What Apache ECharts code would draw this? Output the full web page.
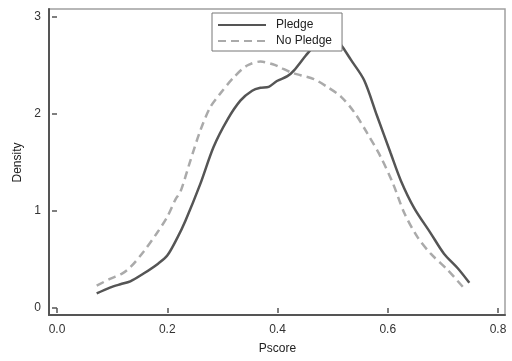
<!DOCTYPE html>
<html>
<head>
<meta charset="utf-8">
<script src="https://cdn.jsdelivr.net/npm/echarts@6/dist/echarts.min.js"></script>
<style>
  html, body { margin: 0; padding: 0; background: #fff; }
  #main { width: 512px; height: 361px; }
</style>
</head>
<body>
<div id="main"></div>
<script>
// kernel density [pscore, density]
var pledge = [
    [0.072,0.15],[0.096,0.21],[0.115,0.245],[0.133,0.275],[0.157,0.355],[0.184,0.46],
    [0.2,0.54],[0.218,0.72],[0.233,0.9],[0.26,1.28],[0.284,1.66],[0.309,1.94],
    [0.333,2.14],[0.354,2.24],[0.369,2.27],[0.384,2.28],[0.399,2.34],[0.418,2.39],
    [0.43,2.45],[0.451,2.6],[0.475,2.76],[0.49,2.83],[0.505,2.79],[0.518,2.69],
    [0.533,2.56],[0.557,2.35],[0.58,1.99],[0.605,1.6],[0.624,1.31],[0.648,1.03],
    [0.678,0.77],[0.702,0.56],[0.727,0.41],[0.748,0.26]
];
var noPledge = [
    [0.072,0.23],[0.096,0.3],[0.118,0.355],[0.133,0.42],[0.157,0.58],[0.181,0.77],
    [0.2,0.94],[0.215,1.12],[0.224,1.2],[0.242,1.52],[0.26,1.83],[0.278,2.07],
    [0.296,2.21],[0.321,2.38],[0.345,2.5],[0.369,2.54],[0.393,2.51],[0.405,2.48],
    [0.424,2.43],[0.442,2.4],[0.466,2.36],[0.49,2.28],[0.515,2.18],[0.539,2.02],
    [0.563,1.8],[0.587,1.56],[0.609,1.29],[0.63,0.98],[0.654,0.73],[0.678,0.56],
    [0.709,0.39],[0.739,0.2]
];
var seriesNames = ['Pledge', 'No Pledge'];
var xTicks = [0, 0.8, 0.2];   // min, max, step
var yTicks = [0, 3, 1];

var myChart = echarts.init(document.getElementById('main'));
var fontFamily = 'Liberation Sans, Arial, sans-serif';

var option = {
    animation: false,
    backgroundColor: '#fff',
    textStyle: { fontFamily: fontFamily },
    grid: [
        { left: 57, right: 14, top: 17, bottom: 53 },                  // data area
        { left: 49, right: 7, top: 9, bottom: 46, show: true,           // plot frame
          borderColor: '#a0a0a0', borderWidth: 1.5, backgroundColor: 'transparent' }
    ],
    legend: {
        left: 212, top: 13,
        orient: 'vertical',
        backgroundColor: '#fff',
        borderColor: '#777', borderWidth: 1,
        padding: [6, 10, 4, 5],
        itemWidth: 48, itemHeight: 14, itemGap: 4,
        itemStyle: { opacity: 0 },       // line only, no marker
        textStyle: { fontSize: 12, color: '#222', fontFamily: fontFamily, padding: [0, 0, 0, 5] },
        data: seriesNames
    },
    xAxis: [
        {
            gridIndex: 0, type: 'value',
            min: xTicks[0], max: xTicks[1], interval: xTicks[2],
            offset: 7,
            name: 'Pscore', nameLocation: 'middle', nameGap: 28,
            nameTextStyle: { fontSize: 12, color: '#222', fontFamily: fontFamily },
            axisLine: { show: false },
            axisTick: { show: true, length: 5, lineStyle: { color: '#555', width: 1.5 } },
            axisLabel: { fontSize: 12, color: '#333', margin: 9,
                         formatter: function (v) { return v.toFixed(1); } },
            splitLine: { show: false }
        },
        {
            gridIndex: 1, type: 'value', min: 0, max: 1,
            axisLine: { show: true, lineStyle: { color: '#555', width: 2 } },
            axisTick: { show: false }, axisLabel: { show: false }, splitLine: { show: false }
        }
    ],
    yAxis: [
        {
            gridIndex: 0, type: 'value',
            min: yTicks[0], max: yTicks[1], interval: yTicks[2],
            offset: 8,
            name: 'Density', nameLocation: 'middle', nameGap: 23, nameRotate: 90,
            nameTextStyle: { fontSize: 12, color: '#222', fontFamily: fontFamily },
            axisLine: { show: false },
            axisTick: { show: true, length: 5, lineStyle: { color: '#555', width: 1.5 } },
            axisLabel: { fontSize: 12, color: '#333', margin: 8 },
            splitLine: { show: false }
        },
        {
            gridIndex: 1, type: 'value', min: 0, max: 1,
            axisLine: { show: true, lineStyle: { color: '#555', width: 2 } },
            axisTick: { show: false }, axisLabel: { show: false }, splitLine: { show: false }
        }
    ],
    series: [
        {
            name: seriesNames[0], type: 'line', xAxisIndex: 0, yAxisIndex: 0,
            data: pledge, symbol: 'none', smooth: 0.3,
            lineStyle: { color: '#555', width: 2.5 },
            itemStyle: { color: '#555' }
        },
        {
            name: seriesNames[1], type: 'line', xAxisIndex: 0, yAxisIndex: 0,
            data: noPledge, symbol: 'none', smooth: 0.3,
            lineStyle: { color: '#aaa', width: 2.5, type: [8, 5] },
            itemStyle: { color: '#aaa' }
        }
    ]
};

myChart.setOption(option);
</script>
</body>
</html>
